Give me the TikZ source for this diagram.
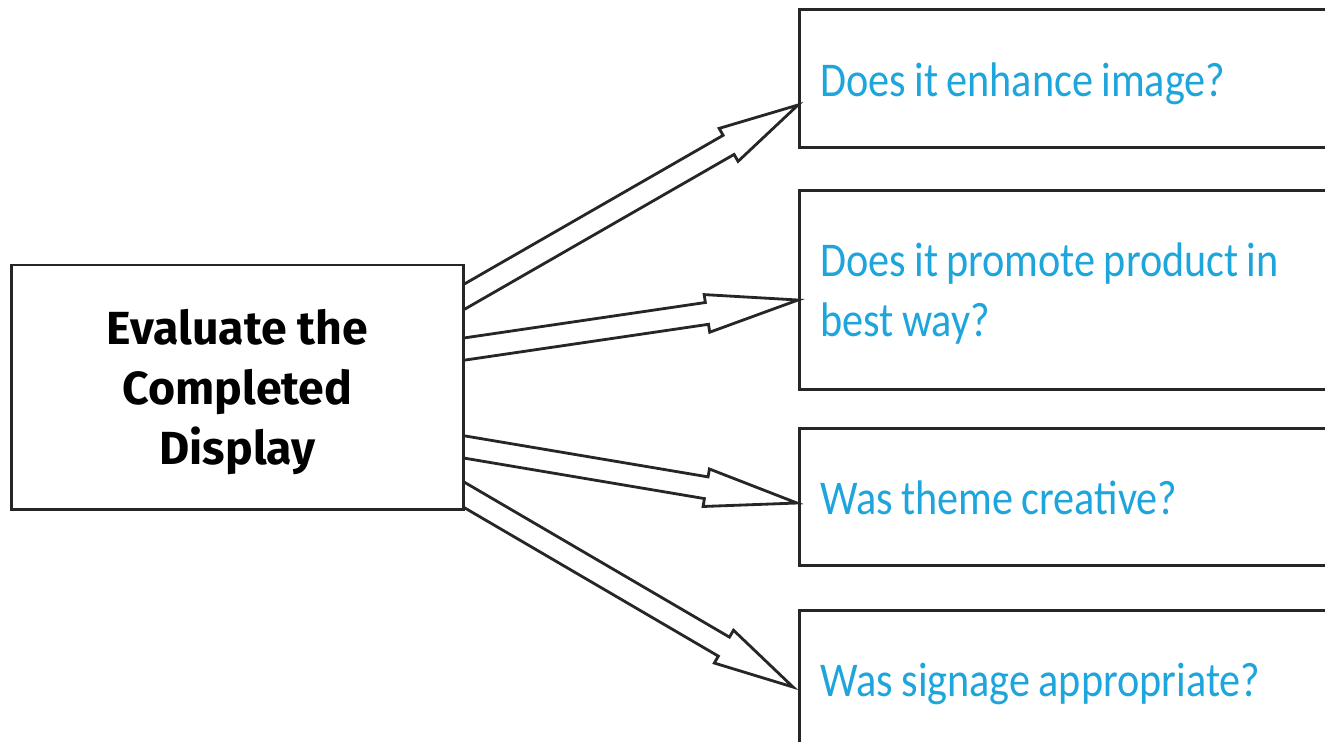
\documentclass[tikz,border=0pt]{standalone}
\usepackage{fontspec}
\setmainfont[FakeStretch=0.87]{Carlito}
\newfontfamily\evfont{Fira Sans}
\usetikzlibrary{calc}
\definecolor{qblue}{RGB}{30,165,220}
\newcommand\qsp{\spaceskip=0.17em plus 0.05em minus 0.02em\relax}
\tikzset{
  qbox/.style={draw=black!85, line width=0.8pt, rectangle, fill=white, text width=6cm,
    inner xsep=0.21cm, inner ysep=0pt, align=left, text=qblue, anchor=north west,
    text height=10.2pt, text depth=0pt,
    font=\fontsize{13.8}{17}\selectfont},
  evbox/.style={draw=black!85, line width=0.8pt, rectangle, fill=white, align=center,
    minimum width=4.51cm, minimum height=2.44cm, inner sep=0pt, text depth=-2.3pt,
    font=\evfont\bfseries\fontsize{13.2}{17}\selectfont},
  barrow/.style={draw=black!85, line width=0.8pt, line join=miter}
}
\newcommand\blockarrow[3]{%
  \coordinate (ba-h) at ($(#2)!#3!(#1)$);
  \coordinate (ba-a1) at ($(#1)!0.11cm!90:(#2)$);
  \coordinate (ba-b1) at ($(ba-h)!0.11cm!90:(#2)$);
  \coordinate (ba-c1) at ($(ba-h)!0.19cm!90:(#2)$);
  \coordinate (ba-a2) at ($(#1)!0.11cm!-90:(#2)$);
  \coordinate (ba-b2) at ($(ba-h)!0.11cm!-90:(#2)$);
  \coordinate (ba-c2) at ($(ba-h)!0.19cm!-90:(#2)$);
  \draw[barrow] (intersection of ba-a1--ba-b1 and ev.north east--ev.south east)
    -- (ba-b1) -- (ba-c1) -- (#2) -- (ba-c2) -- (ba-b2)
    -- (intersection of ba-a2--ba-b2 and ev.north east--ev.south east);}
\begin{document}
\begin{tikzpicture}[x=0.01cm,y=-0.01cm]
\useasboundingbox (0,0) rectangle (1325,741);
\clip (0,0) rectangle (1325,741);

\node[qbox, minimum height=1.38cm] (q1) at (798,8) {\qsp Does it enhance image?};
\node[qbox, minimum height=1.99cm, text height=, text depth=17pt] (q2) at (798,189) {\qsp Does it promote product in\\best way?};
\node[qbox, minimum height=1.37cm] (q3) at (798,427) {\qsp Was theme creative?};
\node[qbox, minimum height=1.37cm] (q4) at (798,609) {\qsp Was signage appropriate?};

\node[evbox] (ev) at (237.5,387) {Evaluate the\\Completed\\Display};

\coordinate (m1) at ($(ev.north east)+(0,33)$);
\coordinate (m2) at ($(ev.north east)+(0,85.5)$);
\coordinate (m3) at ($(ev.north east)+(0,183.5)$);
\coordinate (m4) at ($(ev.north east)+(0,231.5)$);
\coordinate (p1) at ($(q1.north west)+(0,97)$);
\coordinate (p2) at ($(q2.north west)+(0,111)$);
\coordinate (p3) at ($(q3.north west)+(-1,76)$);
\coordinate (p4) at ($(q4.north west)+(-5,78)$);

\blockarrow{m1}{p1}{0.8cm}
\blockarrow{m2}{p2}{0.92cm}
\blockarrow{m3}{p3}{0.92cm}
\blockarrow{m4}{p4}{0.8cm}
\end{tikzpicture}
\end{document}
